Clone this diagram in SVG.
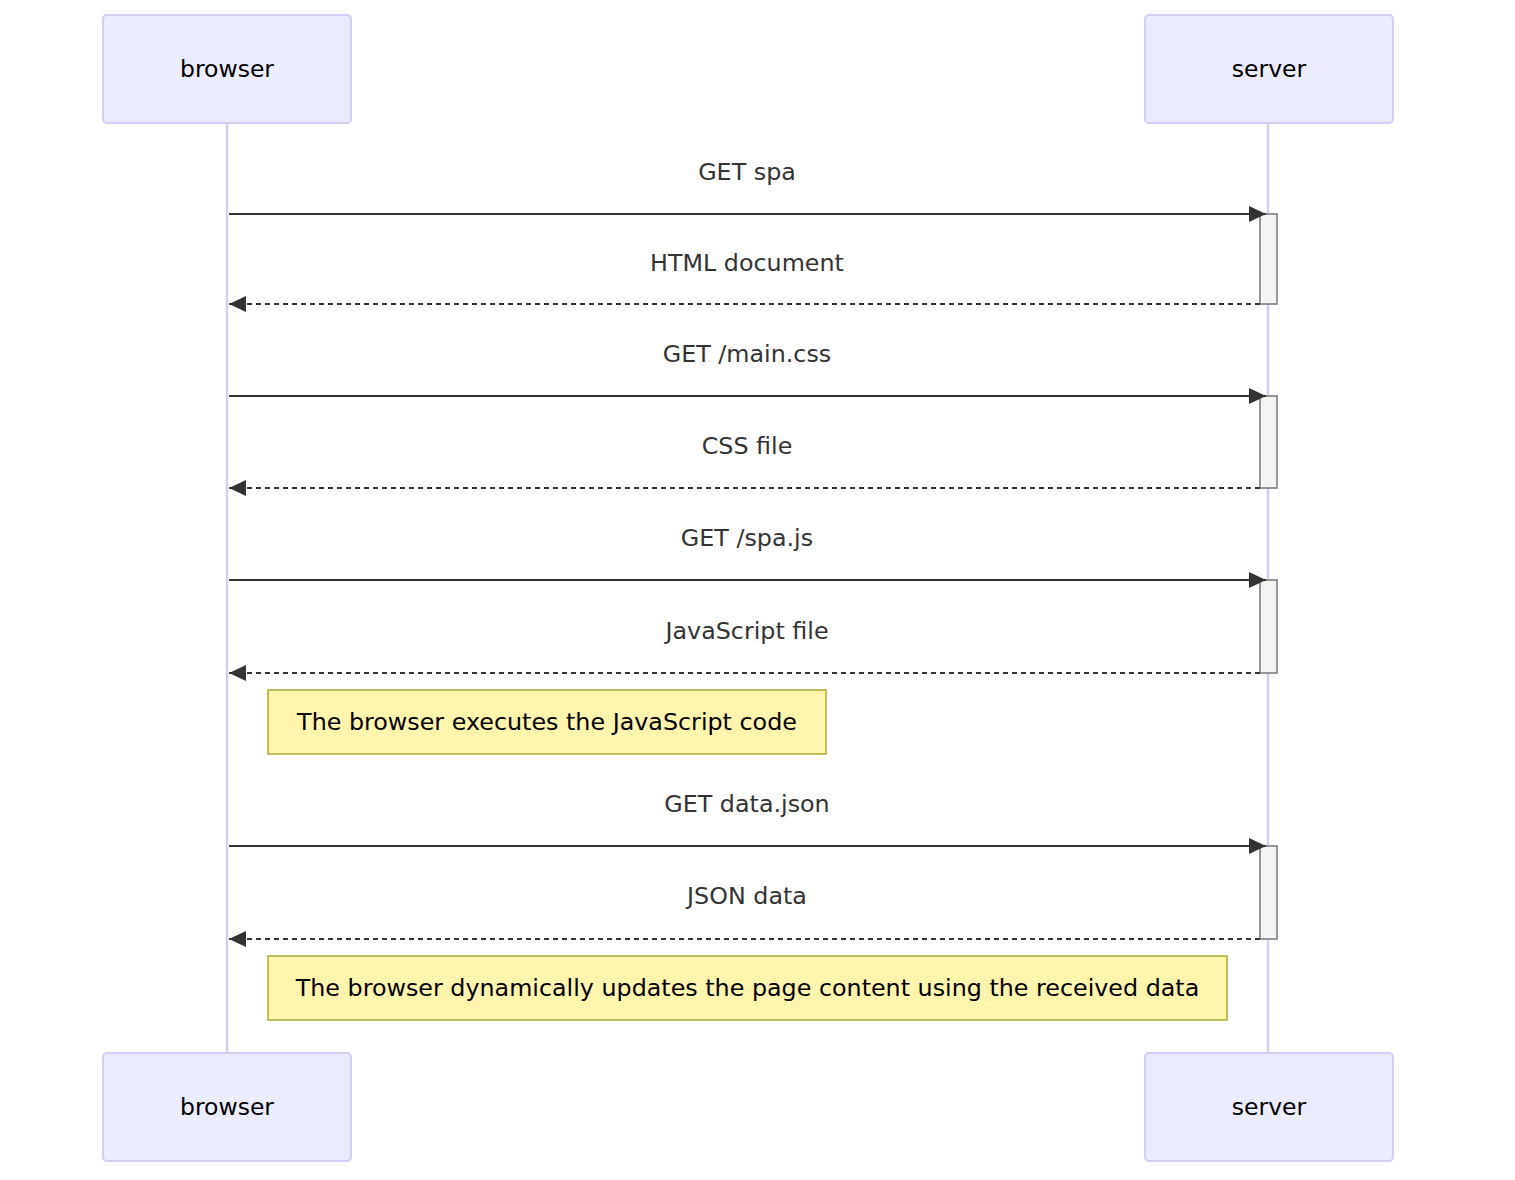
<svg xmlns="http://www.w3.org/2000/svg" width="1515" height="1180" viewBox="0 0 1515 1180">
<style>
.actor{fill:#ECECFF;stroke:#d4cdf5;stroke-width:2}
.life{stroke:#d4cdf5;stroke-width:2.5}
.atext{font-family:"DejaVu Sans",sans-serif;font-size:23.5px;fill:#000;text-anchor:middle}
.mtext{font-family:"DejaVu Sans",sans-serif;font-size:23.8px;fill:#333;text-anchor:middle}
.ntext{font-family:"DejaVu Sans",sans-serif;font-size:23.8px;fill:#000;text-anchor:middle}
.msg{stroke:#333;stroke-width:2.2;fill:none}
.dash{stroke-dasharray:5,4}
.act{fill:#f4f4f4;stroke:#777;stroke-width:1.5}
.note{fill:#fff5ad;stroke:#aaaa33;stroke-width:1.5}
</style>
<defs>
<marker id="arrow" markerUnits="userSpaceOnUse" markerWidth="18" markerHeight="17" refX="17" refY="8" orient="auto">
<path d="M0,0 L17,8 L0,16 z" fill="#333"/>
</marker>
</defs>
<rect width="1515" height="1180" fill="#fff"/>
<g id="lifelines">
<line class="life" x1="227" y1="123" x2="227" y2="1053"/>
<line class="life" x1="1268" y1="123" x2="1268" y2="1053"/>
</g>
<g id="browser-top"><rect class="actor" x="103" y="15" width="248" height="108" rx="4"/><text class="atext" x="227" y="77">browser</text></g>
<g id="server-top"><rect class="actor" x="1145" y="15" width="248" height="108" rx="4"/><text class="atext" x="1269" y="77">server</text></g>
<g id="browser-bottom"><rect class="actor" x="103" y="1053" width="248" height="108" rx="4"/><text class="atext" x="227" y="1115">browser</text></g>
<g id="server-bottom"><rect class="actor" x="1145" y="1053" width="248" height="108" rx="4"/><text class="atext" x="1269" y="1115">server</text></g>
<g id="activations">
<rect class="act" x="1260" y="214" width="17" height="90"/>
<rect class="act" x="1260" y="396" width="17" height="92"/>
<rect class="act" x="1260" y="580" width="17" height="93"/>
<rect class="act" x="1260" y="846" width="17" height="93"/>
</g>
<g id="connectors">
<line class="msg" x1="229" y1="214" x2="1266" y2="214" marker-end="url(#arrow)"/>
<text class="mtext" x="747" y="180">GET spa</text>
<line class="msg dash" x1="1260" y1="304" x2="229" y2="304" marker-end="url(#arrow)"/>
<text class="mtext" x="747" y="271">HTML document</text>
<line class="msg" x1="229" y1="396" x2="1266" y2="396" marker-end="url(#arrow)"/>
<text class="mtext" x="747" y="362">GET /main.css</text>
<line class="msg dash" x1="1260" y1="488" x2="229" y2="488" marker-end="url(#arrow)"/>
<text class="mtext" x="747" y="454">CSS file</text>
<line class="msg" x1="229" y1="580" x2="1266" y2="580" marker-end="url(#arrow)"/>
<text class="mtext" x="747" y="546">GET /spa.js</text>
<line class="msg dash" x1="1260" y1="673" x2="229" y2="673" marker-end="url(#arrow)"/>
<text class="mtext" x="747" y="639">JavaScript file</text>
<line class="msg" x1="229" y1="846" x2="1266" y2="846" marker-end="url(#arrow)"/>
<text class="mtext" x="747" y="812">GET data.json</text>
<line class="msg dash" x1="1260" y1="939" x2="229" y2="939" marker-end="url(#arrow)"/>
<text class="mtext" x="747" y="904">JSON data</text>
</g>
<g id="note1"><rect class="note" x="268" y="690" width="558" height="64"/><text class="ntext" x="547" y="730">The browser executes the JavaScript code</text></g>
<g id="note2"><rect class="note" x="268" y="956" width="959" height="64"/><text class="ntext" x="747.5" y="996">The browser dynamically updates the page content using the received data</text></g>
</svg>
